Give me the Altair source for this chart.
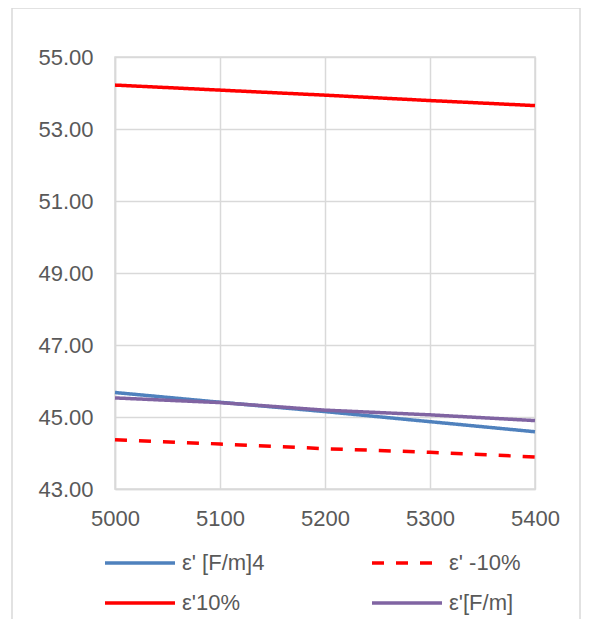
import altair as alt
import pandas as pd

x_vals = [5000, 5100, 5200, 5300, 5400]
s_blue = [45.68, 45.41, 45.15, 44.87, 44.59]
s_dash = [44.37, 44.25, 44.12, 44.02, 43.89]
s_red = [54.22, 54.08, 53.94, 53.79, 53.65]
s_purple = [45.53, 45.40, 45.19, 45.06, 44.90]

names = ["ε' [F/m]4", "ε'10%", "ε' -10%", "ε'[F/m]"]
colors = ["#4F81BD", "#FF0000", "#FF0000", "#8064A2"]
dashes = [[1, 0], [1, 0], [12, 12], [1, 0]]
series = [s_blue, s_red, s_dash, s_purple]

rows = []
for n, s in zip(names, series):
    for xv, yv in zip(x_vals, s):
        rows.append({"x": xv, "y": yv, "series": n})
df = pd.DataFrame(rows)

FONT = "Liberation Sans"
TXT = "#595959"
GRID = "#D9D9D9"

lines = alt.Chart(df).mark_line(strokeWidth=3.5, strokeCap="butt").encode(
    x=alt.X("x:Q", scale=alt.Scale(domain=[5000, 5400], nice=False),
            axis=alt.Axis(values=x_vals, format="d", title=None, ticks=False,
                          labelPadding=19, labelFlush=False, domainColor=GRID,
                          gridColor=GRID, gridWidth=1.5, domainWidth=1.5)),
    y=alt.Y("y:Q", scale=alt.Scale(domain=[43, 55], nice=False, zero=False),
            axis=alt.Axis(values=[43, 45, 47, 49, 51, 53, 55], format=".2f",
                          title=None, ticks=False, labelPadding=22,
                          domainColor=GRID, gridColor=GRID, gridWidth=1.5,
                          domainWidth=1.5)),
    color=alt.Color("series:N", scale=alt.Scale(domain=names, range=colors),
                    legend=alt.Legend(title=None, orient="none", legendX=14,
                                      legendY=495, columns=2,
                                      symbolType="M-7,0H7",
                                      symbolSize=100, symbolStrokeWidth=3.5,
                                      columnPadding=100, rowPadding=18,
                                      labelFontSize=22, labelFont=FONT,
                                      labelColor=TXT, labelOffset=31)),
    strokeDash=alt.StrokeDash("series:N", scale=alt.Scale(domain=names, range=dashes),
                              legend=None),
)

border = alt.Chart(alt.Data(values=[{}])).mark_rect(
    fill=None, stroke=GRID, strokeWidth=1.5
).encode(x=alt.value(-103), x2=alt.value(465), y=alt.value(-49), y2=alt.value(580))

chart = alt.layer(border, lines).properties(
    width=420, height=432,
    autosize=alt.AutoSizeParams(type="none"),
    padding={"left": 107, "top": 49, "right": 46, "bottom": 130},
).configure_axis(
    labelFont=FONT, labelFontSize=22, labelColor=TXT
).configure_view(stroke=GRID, strokeWidth=1.5)

chart.save("out.html", embed_options={"renderer": "svg", "actions": False})
